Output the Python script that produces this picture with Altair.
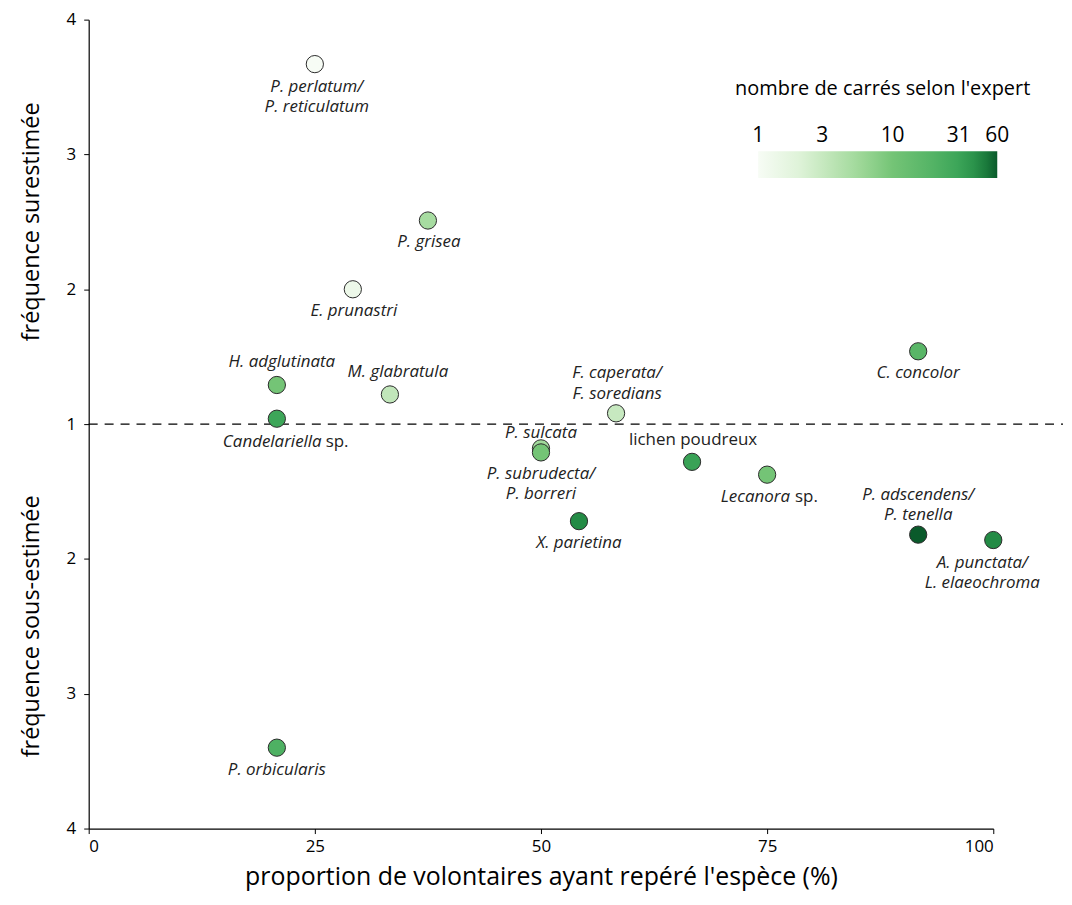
import altair as alt
import pandas as pd

# ---- data ----
species = [
    "P. perlatum/P. reticulatum", "P. grisea", "E. prunastri", "H. adglutinata",
    "Candelariella sp.", "M. glabratula", "F. caperata/F. soredians", "C. concolor",
    "P. sulcata", "P. subrudecta/P. borreri", "lichen poudreux", "Lecanora sp.",
    "X. parietina", "P. adscendens/P. tenella", "A. punctata/L. elaeochroma", "P. orbicularis",
]
proportion = [25.0, 37.5, 29.2, 20.8, 20.8, 33.3, 58.3, 91.7,
              50.0, 50.0, 66.7, 75.0, 54.2, 91.7, 100.0, 20.8]
deviation = [2.67, 1.51, 1.00, 0.29, 0.04, 0.22, 0.08, 0.54,
             -0.18, -0.21, -0.28, -0.375, -0.72, -0.82, -0.86, -2.40]
expert_squares = [1, 5, 1.4, 10, 30, 3.3, 3, 18, 5.5, 10, 32, 10, 45, 60, 45, 22]

y_ticks = [-3, -2, -1, 0, 1, 2, 3]
x_ticks = [0, 25, 50, 75, 100]
legend_values = [1, 3, 10, 31, 60]

# colour stops
color_domain = [1, 1.8, 3, 5.5, 10, 28, 45, 60]
color_range = ["#f7fcf5", "#e5f5e0", "#c7e9c0", "#a1d99b", "#74c476",
               "#41ab5d", "#238b45", "#0a5a2b"]

side_titles = ["fréquence surestimée", "fréquence sous-estimée"]
side_title_pos = [1.5, -1.5]

df = pd.DataFrame({
    "species": species,
    "proportion": proportion,
    "deviation": deviation,
    "expert": expert_squares,
})

FONT = "Open Sans"
PLOT_W = 908
BAR_X0, BAR_LEN = 672, 240  # colour bar placement in pixels inside the plot

# label layout, one entry per text line: (species, text, dx, dy, align, style)
label_layout = [
    ("P. perlatum/P. reticulatum", "P. perlatum/", 2, 23, "center", "italic"),
    ("P. perlatum/P. reticulatum", "P. reticulatum", 2, 43, "center", "italic"),
    ("P. grisea", "P. grisea", 1, 22, "center", "italic"),
    ("E. prunastri", "E. prunastri", 1, 22, "center", "italic"),
    ("H. adglutinata", "H. adglutinata", 5, -23, "center", "italic"),
    ("Candelariella sp.", "Candelariella", 45, 23, "right", "italic"),
    ("Candelariella sp.", "sp.", 49, 23, "left", "normal"),
    ("M. glabratula", "M. glabratula", 8, -22, "center", "italic"),
    ("F. caperata/F. soredians", "F. caperata/", 1, -40, "center", "italic"),
    ("F. caperata/F. soredians", "F. soredians", 1, -19, "center", "italic"),
    ("C. concolor", "C. concolor", 0, 22, "center", "italic"),
    ("P. sulcata", "P. sulcata", 0, -15, "center", "italic"),
    ("P. subrudecta/P. borreri", "P. subrudecta/", 0, 22, "center", "italic"),
    ("P. subrudecta/P. borreri", "P. borreri", 0, 42, "center", "italic"),
    ("lichen poudreux", "lichen poudreux", 1, -22, "center", "normal"),
    ("Lecanora sp.", "Lecanora", 23, 22, "right", "italic"),
    ("Lecanora sp.", "sp.", 28, 22, "left", "normal"),
    ("X. parietina", "X. parietina", 0, 22, "center", "italic"),
    ("P. adscendens/P. tenella", "P. adscendens/", 0, -40, "center", "italic"),
    ("P. adscendens/P. tenella", "P. tenella", 0, -20, "center", "italic"),
    ("A. punctata/L. elaeochroma", "A. punctata/", -11, 23, "center", "italic"),
    ("A. punctata/L. elaeochroma", "L. elaeochroma", -11, 43, "center", "italic"),
    ("P. orbicularis", "P. orbicularis", 0, 22, "center", "italic"),
]

x_scale = alt.Scale(domain=[0, 100], nice=False, zero=False)
y_scale = alt.Scale(domain=[-3, 3], nice=False, zero=False)

points = alt.Chart(df).mark_circle(size=300, opacity=1, stroke="#2b2b2b", strokeWidth=1).encode(
    x=alt.X("proportion:Q", scale=x_scale,
            axis=alt.Axis(values=x_ticks, title="proportion de volontaires ayant repéré l'espèce (%)",
                          grid=False, domainColor="black", tickColor="black", tickSize=5,
                          labelFontSize=17, labelColor="black", labelFont=FONT, labelPadding=5,
                          titleFontSize=25, titleFont=FONT, titleFontWeight="normal",
                          titleColor="black", titlePadding=10, domainWidth=1.2)),
    y=alt.Y("deviation:Q", scale=y_scale,
            axis=alt.Axis(values=y_ticks, labelExpr="abs(datum.value) + 1", title=None,
                          grid=False, domainColor="black", tickColor="black", tickSize=5,
                          labelFontSize=17, labelColor="black", labelFont=FONT, labelPadding=8,
                          domainWidth=1.2)),
    color=alt.Color("expert:Q",
                    scale=alt.Scale(type="log", domain=color_domain, range=color_range),
                    legend=alt.Legend(title=None, orient="none", direction="horizontal",
                                      legendX=BAR_X0, legendY=132, gradientLength=BAR_LEN,
                                      gradientThickness=27, values=[1],
                                      labelExpr="''", labelOpacity=0,
                                      gradientStrokeWidth=0, padding=0)),
)

rule = alt.Chart(pd.DataFrame({"y": [0]})).mark_rule(
    strokeDash=[9, 7], color="black", strokeWidth=1.3
).encode(y=alt.Y("y:Q", scale=y_scale), x=alt.value(0), x2=alt.value(978))

label_layers = []
for sp, txt, dx, dy, align, style in label_layout:
    sub = df[df["species"] == sp].assign(txt=txt)
    lyr = alt.Chart(sub).mark_text(
        dx=dx, dy=dy, align=align, baseline="middle", fontStyle=style,
        font=FONT, fontSize=17, color="#222222",
    ).encode(
        x=alt.X("proportion:Q", scale=x_scale),
        y=alt.Y("deviation:Q", scale=y_scale),
        text="txt:N",
    )
    label_layers.append(lyr)

side = alt.Chart(pd.DataFrame({"t": side_titles, "y": side_title_pos})).mark_text(
    angle=270, fontSize=23.5, font=FONT, color="black", align="center", baseline="middle"
).encode(y=alt.Y("y:Q", scale=y_scale), x=alt.value(-57), text="t:N")

legend_title = alt.Chart(pd.DataFrame({"t": ["nombre de carrés selon l'expert"]})).mark_text(
    fontSize=20, font=FONT, color="black", align="center", baseline="middle"
).encode(x=alt.value(797), y=alt.value(70), text="t:N")

# colour-bar tick labels, placed on the log position along the colour bar
bar_labels = alt.Chart(pd.DataFrame({"v": legend_values})).transform_calculate(
    pos=f"({BAR_X0} + {BAR_LEN} * log(datum.v) / log(60)) * 100 / {PLOT_W}"
).mark_text(
    fontSize=21, font=FONT, color="black", align="center", baseline="middle"
).encode(x=alt.X("pos:Q", scale=x_scale), y=alt.value(117), text="v:N")

chart = alt.layer(rule, points, *label_layers, side, legend_title, bar_labels).properties(
    width=PLOT_W, height=812,
    padding={"left": 12, "top": 1, "right": 0, "bottom": 0},
).configure_view(stroke=None).configure_axis(domainColor="black")

chart.save("out.html", embed_options={"renderer": "svg", "actions": False})
